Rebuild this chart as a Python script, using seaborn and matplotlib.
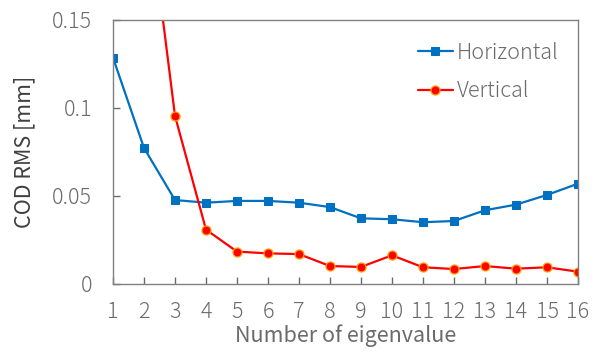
import matplotlib
matplotlib.use("Agg")
import matplotlib.pyplot as plt
import seaborn as sns
import pandas as pd

eigen_n = list(range(1, 17))
horizontal = [0.1286, 0.0773, 0.0477, 0.0462, 0.0472, 0.0472, 0.0462, 0.0437,
              0.0373, 0.0368, 0.0351, 0.0358, 0.0419, 0.0451, 0.0506, 0.0570]
vertical = [0.35, 0.236, 0.0955, 0.0309, 0.0184, 0.0174, 0.0170, 0.0102,
            0.0097, 0.0163, 0.0095, 0.0085, 0.0102, 0.0087, 0.0095, 0.0070]
series_names = ["Horizontal", "Vertical"]
y_ticks = [0, 0.05, 0.1, 0.15]
y_tick_labels = ["0", "0.05", "0.1", "0.15"]

sns.set_theme(style="white")
plt.rcParams['font.family'] = ['Noto Sans CJK JP', 'DejaVu Sans']
plt.rcParams['font.weight'] = 'light'
gray = "#6b6b6b"
fs = 15.5

df_h = pd.DataFrame({"n": eigen_n, "v": horizontal})
df_v = pd.DataFrame({"n": eigen_n, "v": vertical})

fig = plt.figure(figsize=(5.97, 3.52), dpi=100)
ax = fig.add_axes([113/597, 1 - 284/352, (578-113)/597, (284-20)/352])

sns.lineplot(data=df_h, x="n", y="v", ax=ax, color="#0070C0", marker="s",
             markersize=6, markeredgecolor="#0070C0", linewidth=1.6,
             label=series_names[0])
sns.lineplot(data=df_v, x="n", y="v", ax=ax, color="#FF0000", marker="o",
             markersize=6.5, markeredgecolor="#FFA000", markeredgewidth=0.9,
             linewidth=1.6, label=series_names[1])

ax.set_xlim(1, 16)
ax.set_ylim(0, 0.15)
ax.set_xticks(eigen_n)
ax.set_xticklabels([str(i) for i in eigen_n])
ax.set_yticks(y_ticks)
ax.set_yticklabels(y_tick_labels)
ax.tick_params(axis="both", direction="in", length=5, width=1, colors=gray,
               labelsize=fs)
ax.tick_params(axis="x", bottom=True, top=False, pad=12)
ax.tick_params(axis="y", left=True, right=False, pad=15)
for sp in ax.spines.values():
    sp.set_color("#808080")
    sp.set_linewidth(1)
ax.set_xlabel("Number of eigenvalue", fontsize=fs, color=gray, labelpad=1)
ax.set_ylabel("COD RMS [mm]", fontsize=fs, color="#404040", labelpad=12)

leg = ax.legend(loc="upper right", frameon=False, fontsize=fs, handlelength=1.6,
                handletextpad=0.2, labelspacing=0.75,
                bbox_to_anchor=(1.0, 0.99))
for t in leg.get_texts():
    t.set_color(gray)

fig.savefig("out.png", dpi=100)
